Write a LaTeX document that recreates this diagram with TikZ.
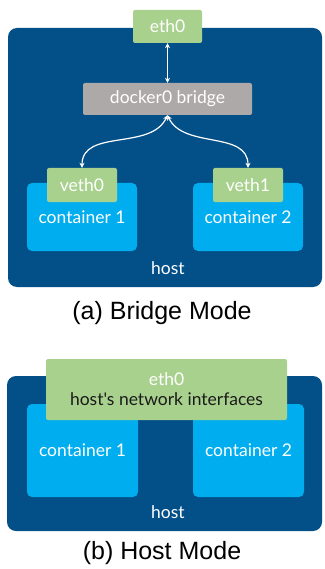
\documentclass[tikz,border=0pt]{standalone}
\usepackage{fontspec}
\setmainfont{Liberation Sans}
\newfontfamily\boxfont{Lato}
\usetikzlibrary{arrows.meta}

\definecolor{hostblue}{HTML}{034F88}
\definecolor{ctblue}{HTML}{00AEEF}
\definecolor{ifgreen}{HTML}{A9D18E}
\definecolor{bridgegray}{HTML}{ADA9A8}
\definecolor{darktext}{HTML}{1A1A1A}

\tikzset{
  hostbox/.style={fill=hostblue, rounded corners=9pt, inner sep=0pt},
  ctbox/.style={fill=ctblue, rounded corners=5pt, inner sep=0pt, text=white,
    font=\boxfont\fontsize{17.5}{20}\selectfont},
  ifbox/.style={fill=ifgreen, rounded corners=2pt, inner sep=0pt, text=white,
    font=\boxfont\fontsize{17.5}{20}\selectfont},
  brbox/.style={fill=bridgegray, rounded corners=2pt, inner sep=0pt, text=white,
    font=\boxfont\fontsize{17.5}{20}\selectfont},
  hostlabel/.style={text=white, font=\boxfont\fontsize{17.5}{20}\selectfont},
  caption/.style={font=\fontsize{25}{28}\selectfont},
  link/.style={white, line width=1.2pt, {Stealth[length=5pt,width=5pt]}-{Stealth[length=5pt,width=5pt]}}
}

\begin{document}
\begin{tikzpicture}[x=1pt,y=-1pt]
  \useasboundingbox (0,0) rectangle (324,569);

  % (a) bridge mode
  \node[hostbox, minimum width=314pt, minimum height=259pt] (host1) at (165,157.5) {};
  \node[hostlabel] (host1lbl) at (168,268) {host};
  \node[ifbox, minimum width=69pt, minimum height=33pt] (eth0a) at (167.5,26.5) {eth0};
  \node[brbox, minimum width=169pt, minimum height=32pt] (bridge) at (167.5,99) {docker0 bridge};
  \node[ctbox, minimum width=110pt, minimum height=68pt] (ct1a) at (82,217) {container 1};
  \node[ctbox, minimum width=110pt, minimum height=68pt] (ct2a) at (248,217) {container 2};
  \node[ifbox, minimum width=70pt, minimum height=34pt] (veth0) at (82,185) {veth0};
  \node[ifbox, minimum width=70pt, minimum height=34pt] (veth1) at (248,185) {veth1};

  \draw[link] (eth0a) -- (bridge);
  \draw[link] (bridge.south) to[out=-115,in=90] (veth0.north);
  \draw[link] (bridge.south) to[out=-65,in=90] (veth1.north);

  \node[caption] (capa) at (162,313) {(a) Bridge Mode};

  % (b) host mode
  \node[hostbox, minimum width=315pt, minimum height=155pt] (host2) at (164.5,453.5) {};
  \node[hostlabel] (host2lbl) at (168,512) {host};
  \node[ctbox, minimum width=111pt, minimum height=93pt] (ct1b) at (82.5,450.5) {\raisebox{-4pt}{container 1}};
  \node[ctbox, minimum width=111pt, minimum height=93pt] (ct2b) at (248.5,450.5) {\raisebox{-4pt}{container 2}};
  \node[ifbox, minimum width=241pt, minimum height=61pt, align=center] (eth0b) at (166.5,389.5)
    {eth0\\[0pt]\textcolor{darktext}{host's network interfaces}};

  \node[caption] (capb) at (162,553) {(b) Host Mode};
\end{tikzpicture}
\end{document}
